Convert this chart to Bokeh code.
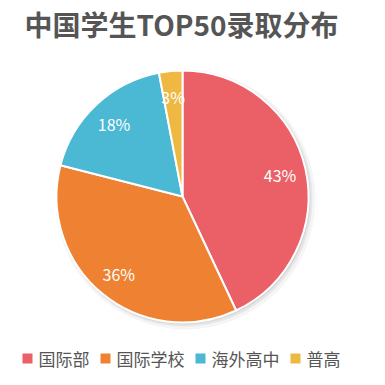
import math
from bokeh.plotting import figure
from bokeh.models import Range1d, ColumnDataSource
from bokeh.core.properties import value
from bokeh.embed import file_html
from bokeh.resources import INLINE

title = "中国学生TOP50录取分布"
categories = ["国际部", "国际学校", "海外高中", "普高"]
shares = [43, 36, 18, 3]
colors = ["#EB6066", "#EE8232", "#4BB8D4", "#EEB843"]

W, H = 385, 385
p = figure(width=W, height=H, output_backend="svg", toolbar_location=None,
           x_range=Range1d(0, W), y_range=Range1d(0, H), min_border=0)
p.axis.visible = False
p.grid.visible = False
p.outline_line_color = None
p.background_fill_color = "white"

cx, cy, R = 182, 189, 126
total = sum(shares)

# shadow
for off, rr, a in [(3, R + 4, 0.04), (2, R + 2, 0.06), (1, R + 1, 0.08)]:
    p.circle(x=[cx + off], y=[cy - off], radius=rr, fill_color="black",
             fill_alpha=a, line_color=None)

starts, ends, lx, ly, labels = [], [], [], [], []
cum = 0
for s in shares:
    c0 = cum / total
    cum += s
    c1 = cum / total
    starts.append(math.pi / 2 - 2 * math.pi * c1)
    ends.append(math.pi / 2 - 2 * math.pi * c0)
    mid = (c0 + c1) / 2
    ang = math.pi / 2 - 2 * math.pi * mid
    lx.append(cx + 100 * math.cos(ang))
    ly.append(cy + 100 * math.sin(ang))
    labels.append(f"{s}%")

src = ColumnDataSource(dict(start=starts, end=ends, color=colors))
p.wedge(x=cx, y=cy, radius=R, start_angle="start", end_angle="end",
        fill_color="color", line_color="white", line_width=2, source=src)

p.text(x=lx, y=ly, text=labels, text_color="white", text_font_size="16px",
       text_align="center", text_baseline="middle",
       text_font=value("Noto Sans CJK SC"))

p.text(x=[181], y=[362], text=[title], text_color="#555555",
       text_font_size="28px", text_font_style="bold", text_align="center",
       text_baseline="middle", text_font=value("Noto Sans CJK SC"))

# legend
sq_x = [22, 100, 195, 290]
txt_x = [38, 116, 211, 306]
ly_leg = 27
p.rect(x=[x + 5 for x in sq_x], y=[ly_leg] * 4, width=10, height=10,
       fill_color=colors, line_color=None)
p.text(x=txt_x, y=[ly_leg] * 4, text=categories, text_color="#555555",
       text_font_size="17px", text_align="left", text_baseline="middle",
       text_font=value("Noto Sans CJK SC"))

open("out.html", "w").write(file_html(p, INLINE))
